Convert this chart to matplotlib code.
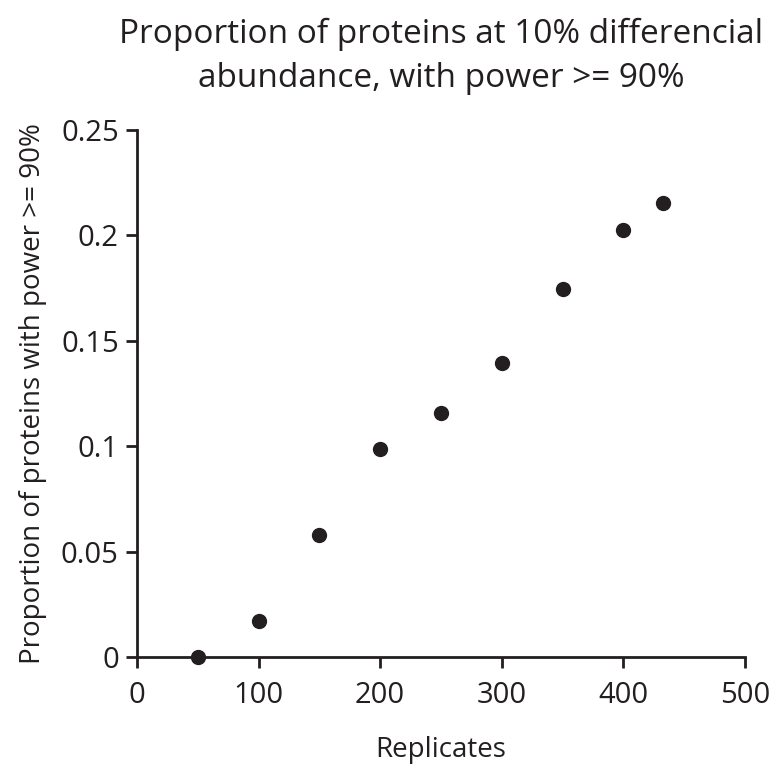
import matplotlib
matplotlib.use("Agg")
import matplotlib.pyplot as plt

replicates = [50, 100, 150, 200, 250, 300, 350, 400, 433]
proportion = [0.0, 0.0171, 0.0579, 0.0987, 0.1157, 0.1395, 0.1746, 0.2026, 0.2154]
x_ticks = [0, 100, 200, 300, 400, 500]
y_ticks = [0, 0.05, 0.1, 0.15, 0.2, 0.25]
y_labels = ["0", "0.05", "0.1", "0.15", "0.2", "0.25"]

plt.rcParams['font.family'] = ['Open Sans', 'DejaVu Sans']
dark = '#231f20'

fig = plt.figure(figsize=(7.78, 7.67), dpi=100)
ax = fig.add_axes([0.176, 0.1434, 0.7815, 0.6871])
ax.scatter(replicates, proportion, s=100, color=dark, zorder=3, clip_on=False)
ax.set_xlim(0, 500)
ax.set_ylim(0, 0.25)
ax.set_xticks(x_ticks)
ax.set_yticks(y_ticks)
ax.set_yticklabels(y_labels)
for s in ['top', 'right']:
    ax.spines[s].set_visible(False)
for s in ['left', 'bottom']:
    ax.spines[s].set_color(dark)
    ax.spines[s].set_linewidth(2)
ax.tick_params(axis='both', direction='out', length=8, width=2, color=dark,
               labelsize=21, labelcolor=dark)
ax.tick_params(axis='x', pad=9)
ax.tick_params(axis='y', pad=5)
ax.set_xlabel('Replicates', fontsize=20, color=dark, labelpad=19)
ax.set_ylabel('Proportion of proteins with power >= 90%', fontsize=20, color=dark, labelpad=10)
ax.set_title('Proportion of proteins at 10% differencial\nabundance, with power >= 90%',
             fontsize=24, color=dark, pad=31, linespacing=1.45)
fig.savefig('out.png', dpi=100, facecolor='white')
